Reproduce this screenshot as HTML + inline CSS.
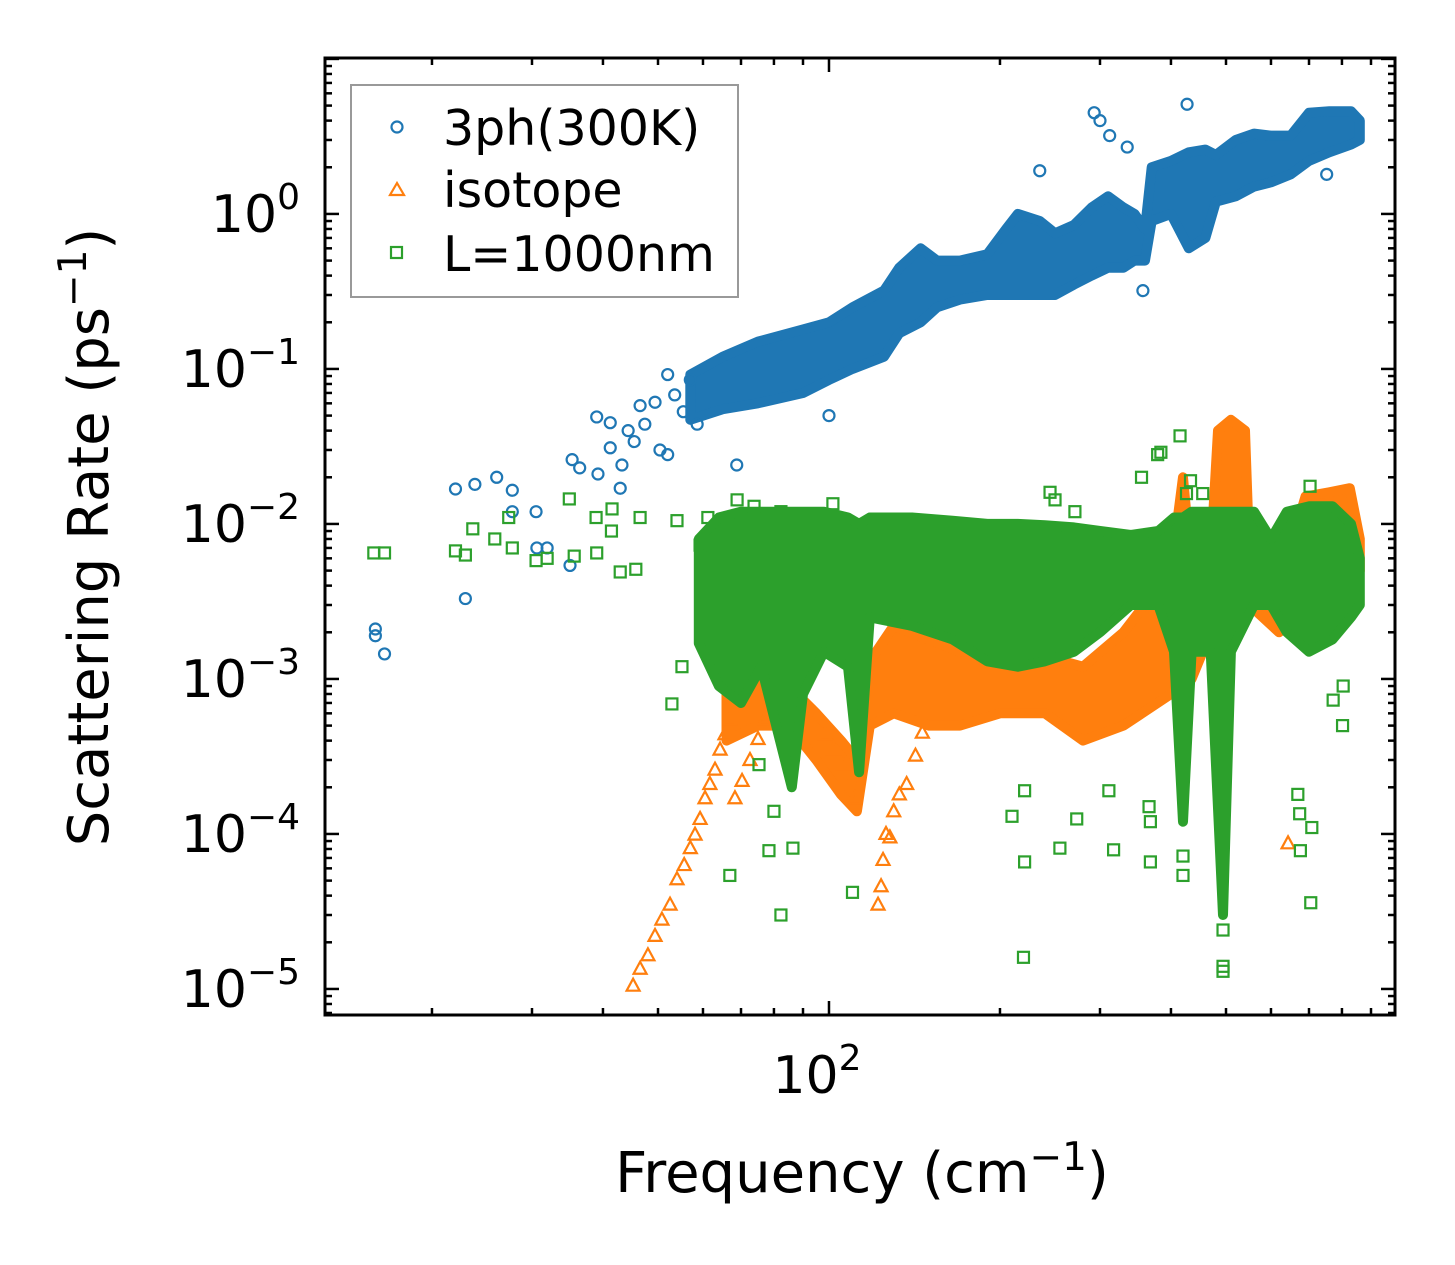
<!DOCTYPE html>
<html><head><meta charset="utf-8"><style>
html,body{margin:0;padding:0;background:#fff;}
svg{display:block;font-family:"DejaVu Sans","Liberation Sans",sans-serif;}
</style></head><body>
<svg id="chart" width="1455" height="1265" viewBox="0 0 1455 1265" xmlns="http://www.w3.org/2000/svg">
<rect x="0" y="0" width="1455" height="1265" fill="#fff"/>
<g id="marks"></g>
<g id="axes"></g>
<text x="108" y="537" font-size="56" text-anchor="middle" transform="rotate(-90 108 537)">Scattering Rate (ps<tspan dy="-22" font-size="39">−1</tspan><tspan dy="22">)</tspan></text>
<text x="862" y="1192" font-size="56" text-anchor="middle">Frequency (cm<tspan dy="-22" font-size="39">−1</tspan><tspan dy="22">)</tspan></text>
<g>
<rect x="351" y="85" width="387" height="212" fill="#fff" fill-opacity="0.8" stroke="#999" stroke-width="2"/>
<circle cx="397" cy="127" r="5.5" fill="none" stroke="#1f77b4" stroke-width="2.2"/>
<text x="443" y="145" font-size="49">3ph(300K)</text>
<polygon points="397,183 390,195 404,195" fill="none" stroke="#ff7f0e" stroke-width="2.2"/>
<text x="443" y="207" font-size="49">isotope</text>
<rect x="391" y="247" width="11" height="11" fill="none" stroke="#2ca02c" stroke-width="2.2"/>
<text x="443" y="271" font-size="49">L=1000nm</text>
</g>
</svg>
<script>
// ---- data (frequency cm^-1, rate ps^-1) ----
const blueBandF=[57,65,75,90,100,110,125,133,145,155,170,190,205,215,235,250,270,290,310,330,345,360,370,400,430,460,480,520,560,600,650,700,760,830,860];
const blueBandLo=[0.047,0.055,0.06,0.07,0.085,0.1,0.12,0.17,0.2,0.25,0.28,0.3,0.3,0.3,0.3,0.3,0.35,0.4,0.45,0.45,0.5,0.5,0.9,1.0,0.6,0.7,1.2,1.3,1.5,1.6,1.8,2.2,2.5,2.8,3.0];
const blueBandHi=[0.092,0.12,0.15,0.18,0.2,0.25,0.32,0.45,0.6,0.5,0.5,0.55,0.8,1.0,0.9,0.75,0.85,1.1,1.3,1.1,1.0,0.8,2.0,2.2,2.5,2.6,2.4,3.0,3.3,3.2,3.2,4.5,4.6,4.6,4.0];
const blueF=[15.9,15.9,16.5,22.9,22.0,23.8,26.0,27.7,27.7,30.5,30.6,31.9,35.0,35.3,36.4,39.0,39.2,41.2,41.2,42.9,43.2,45.4,46.5,49.4,50.4,52.0,52.0,53.5,57.0,58.6,68.8,55.4,47.4,44.3,293,300,312,335,427,235,357,752,100];
const blueR=[0.0021,0.0019,0.00145,0.0033,0.0168,0.018,0.020,0.0165,0.012,0.012,0.007,0.007,0.0054,0.026,0.023,0.049,0.021,0.045,0.031,0.017,0.024,0.034,0.058,0.061,0.030,0.028,0.092,0.068,0.085,0.044,0.024,0.053,0.044,0.040,4.5,4.0,3.2,2.7,5.1,1.9,0.32,1.8,0.05];

const orangeBandF=[66,75,85,95,105,112,118,130,150,170,200,240,280,330,400,420,435,470,484,510,540,550,620,690,760,826,860];
const orangeBandLo=[0.0004,0.0005,0.0005,0.0003,0.00018,0.00014,0.0005,0.0006,0.0005,0.0005,0.0006,0.0006,0.0004,0.0005,0.0008,0.001,0.001,0.002,0.004,0.005,0.005,0.003,0.002,0.003,0.004,0.003,0.005];
const orangeBandHi=[0.0009,0.0011,0.0009,0.0006,0.0004,0.0003,0.0013,0.0022,0.0018,0.0015,0.0015,0.0014,0.0012,0.002,0.005,0.02,0.005,0.006,0.04,0.047,0.04,0.006,0.004,0.015,0.016,0.017,0.008];
const orangeF=[45.2,46.5,48.0,49.4,50.8,52.5,54.0,55.6,57.0,58.1,59.3,60.5,61.7,63.0,64.3,65.6,66.9,68.3,70.3,72.6,75.0,77.2,88.9,91,94.5,98.4,102,106,109,111,123.5,122,124.5,126,128,130,133,137,142,146,643];
const orangeR=[1.05e-5,1.35e-5,1.65e-5,2.2e-5,2.8e-5,3.5e-5,5.1e-5,6.3e-5,8.1e-5,9.9e-5,1.25e-4,1.7e-4,2.1e-4,2.6e-4,3.5e-4,4.4e-4,5.5e-4,1.7e-4,2.2e-4,3.0e-4,4.1e-4,5.5e-4,7.0e-4,6.4e-4,5.9e-4,4.4e-4,3.5e-4,2.8e-4,2.1e-4,1.7e-4,4.6e-5,3.5e-5,6.8e-5,1.0e-4,9.5e-5,1.4e-4,1.8e-4,2.1e-4,3.2e-4,4.5e-4,8.7e-5];

const greenBandF=[59,64,70,76,82,86,90,98,108,113,118,140,165,190,215,240,270,300,340,380,405,420,435,470,494,510,560,600,640,700,770,830,860];
const greenBandLo=[0.0017,0.0009,0.0007,0.0012,0.0004,0.0002,0.0008,0.0015,0.0012,0.00025,0.0025,0.0022,0.0018,0.0013,0.0012,0.0013,0.0015,0.002,0.003,0.003,0.0015,0.00012,0.0015,0.0015,0.00003,0.0015,0.003,0.003,0.002,0.0015,0.0018,0.0025,0.003];
const greenBandHi=[0.008,0.011,0.012,0.012,0.012,0.012,0.012,0.012,0.011,0.010,0.011,0.011,0.0105,0.0100,0.0100,0.0098,0.0095,0.009,0.0085,0.009,0.011,0.011,0.012,0.012,0.012,0.012,0.012,0.008,0.012,0.013,0.013,0.010,0.006];
const greenF=[15.8,16.5,22.0,22.9,23.6,25.8,27.3,27.7,30.5,31.9,34.9,35.6,38.9,41.5,41.4,39.0,42.9,45.7,46.5,52.9,54.0,55.1,59.3,66.9,82.3,110,86.4,78.4,80,75.3,220,210,221,221,255,273,311,317,366,368,368,420,420,494,494,494,669,674,708,676,705,802,804,772,415,379,384,355,245,250,271,703,455,426,433,68.9,73.8,82.3,101.6,61.2];
const greenR=[0.0065,0.0065,0.0067,0.0063,0.0093,0.008,0.011,0.007,0.0058,0.006,0.0145,0.0062,0.011,0.0125,0.009,0.0065,0.0049,0.0051,0.011,0.00069,0.0105,0.0012,0.0073,5.4e-5,3.0e-5,4.2e-5,8.1e-5,7.8e-5,1.4e-4,2.8e-4,1.6e-5,1.3e-4,1.9e-4,6.6e-5,8.1e-5,1.25e-4,1.9e-4,7.9e-5,1.5e-4,1.2e-4,6.6e-5,7.2e-5,5.4e-5,2.4e-5,1.4e-5,1.3e-5,1.8e-4,1.35e-4,1.1e-4,7.8e-5,3.6e-5,5.0e-4,9e-4,7.3e-4,0.037,0.028,0.029,0.020,0.016,0.0143,0.012,0.0175,0.0157,0.0157,0.019,0.0143,0.013,0.012,0.0135,0.011];

const yTickExp=[0,-1,-2,-3,-4,-5];
const yTickLabels=["0","−1","−2","−3","−4","−5"];
const xTickExp=[2];
const xTickLabels=["2"];

// ---- axes ----
const X0=325,X1=1395,Y0=58,Y1=1015;
const LX0=1.1127,LX1=2.9965,LY0=-5.168,LY1=1.006;
function sx(f){return X0+(Math.log10(f)-LX0)/(LX1-LX0)*(X1-X0);}
function sy(r){return Y1-(Math.log10(r)-LY0)/(LY1-LY0)*(Y1-Y0);}
const NS="http://www.w3.org/2000/svg";
const marks=document.getElementById('marks');
const axes=document.getElementById('axes');
function mk(tag,attrs,parent){const e=document.createElementNS(NS,tag);for(const k in attrs)e.setAttribute(k,attrs[k]);parent.appendChild(e);return e;}

function band(F,Lo,Hi,color,name){
  const pts=[];
  for(let i=0;i<F.length;i++)pts.push(sx(F[i]).toFixed(1)+','+sy(Hi[i]).toFixed(1));
  for(let i=F.length-1;i>=0;i--)pts.push(sx(F[i]).toFixed(1)+','+sy(Lo[i]).toFixed(1));
  const p=mk('polygon',{points:pts.join(' '),fill:color,stroke:color,'stroke-width':10,'stroke-linejoin':'round'},marks);
  
  
}
function points(F,R,color,shape,name){
  const g=mk('g',{},marks);
  
  
  for(let i=0;i<F.length;i++){
    const x=sx(F[i]),y=sy(R[i]);let e;
    if(shape==='circle')e=mk('circle',{cx:x,cy:y,r:5.5,fill:'none',stroke:color,'stroke-width':2.2},g);
    else if(shape==='square')e=mk('rect',{x:x-5.5,y:y-5.5,width:11,height:11,fill:'none',stroke:color,'stroke-width':2.2},g);
    else e=mk('polygon',{points:`${x},${y-7} ${x-6.5},${y+5} ${x+6.5},${y+5}`,fill:'none',stroke:color,'stroke-width':2.2},g);
    
    
  }
}
band(blueBandF,blueBandLo,blueBandHi,'#1f77b4','3ph-dense-cloud');
points(blueF,blueR,'#1f77b4','circle','3ph-points');
band(orangeBandF,orangeBandLo,orangeBandHi,'#ff7f0e','isotope-dense-cloud');
points(orangeF,orangeR,'#ff7f0e','tri','isotope-points');
band(greenBandF,greenBandLo,greenBandHi,'#2ca02c','boundary-dense-cloud');
points(greenF,greenR,'#2ca02c','square','boundary-points');

const fr=mk('rect',{x:X0,y:Y0,width:X1-X0,height:Y1-Y0,fill:'none',stroke:'#000','stroke-width':3},axes);


function tick(x1,y1,x2,y2){const t=mk('line',{x1:x1,y1:y1,x2:x2,y2:y2,stroke:'#000','stroke-width':2.5},axes);
  
  }
for(let d=-6;d<=1;d++){
  for(let m=1;m<=9;m++){
    const v=m*Math.pow(10,d);const y=sy(v);
    if(y<Y0-0.5||y>Y1+0.5)continue;
    const L=m===1?14:7;
    tick(X0,y,X0+L,y);tick(X1,y,X1-L,y);
  }
}
for(let d=1;d<=2;d++){
  for(let m=1;m<=9;m++){
    const v=m*Math.pow(10,d);const x=sx(v);
    if(x<X0-0.5||x>X1+0.5)continue;
    const L=m===1?14:7;
    tick(x,Y1,x,Y1-L);tick(x,Y0,x,Y0+L);
  }
}
yTickExp.forEach((e,i)=>{
  const t=mk('text',{x:300,y:sy(Math.pow(10,e))+18,'font-size':52,'text-anchor':'end'},axes);
  t.textContent='10';
  const s=mk('tspan',{dy:-23,'font-size':36},t);s.textContent=yTickLabels[i];
  
  
});
xTickExp.forEach((e,i)=>{
  const t=mk('text',{x:sx(Math.pow(10,e))-12,y:1093,'font-size':52,'text-anchor':'middle'},axes);
  t.textContent='10';
  const s=mk('tspan',{dy:-23,'font-size':36},t);s.textContent=xTickLabels[i];
  
  
});
</script>
</body></html>
